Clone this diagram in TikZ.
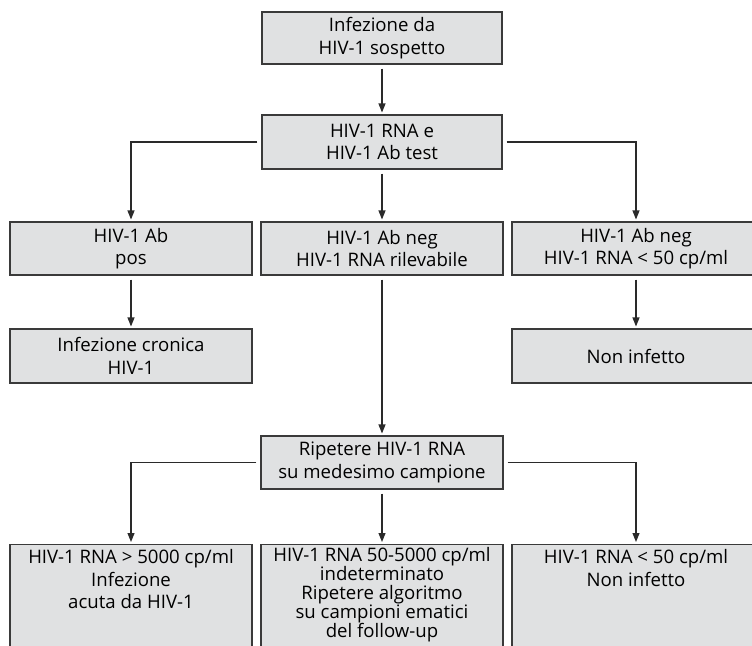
\documentclass[tikz,border=0pt]{standalone}
\usepackage{fontspec}
\setmainfont{Open Sans}
\usetikzlibrary{arrows.meta}
\definecolor{boxfill}{HTML}{E0E1E2}
\definecolor{boxline}{HTML}{3A3A3A}
\definecolor{arrline}{HTML}{2A2A2A}
\begin{document}
\begin{tikzpicture}[x=1pt,y=-1pt,
  box/.style={draw=boxline, fill=boxfill, line width=1.1pt, inner sep=0pt,
    align=center, font=\fontsize{18.6}{22.5}\selectfont},
  arr/.style={draw=arrline, line width=1.1pt, -{Triangle[length=9pt,width=7pt]},
    shorten <=4pt, shorten >=2pt}]
\useasboundingbox (0,0) rectangle (752,645);
\node[box, minimum width=240pt, minimum height=52pt] (top) at (382,38) {Infezione da\\HIV-1 sospetto};
\node[box, minimum width=240pt, minimum height=54pt] (test) at (382,142) {HIV-1 RNA e\\HIV-1 Ab test};
\node[box, minimum width=242pt, minimum height=53pt] (pos) at (131,248.5) {HIV-1 Ab\\pos};
\node[box, minimum width=242pt, minimum height=53pt] (rilev) at (382,248.5) {HIV-1 Ab neg\\HIV-1 RNA rilevabile};
\node[box, minimum width=248pt, minimum height=53pt] (neg) at (636,248.5) {HIV-1 Ab neg\\HIV-1 RNA < 50 cp/ml};
\node[box, minimum width=242pt, minimum height=54pt] (cron) at (131,356) {Infezione cronica\\HIV-1};
\node[box, minimum width=248pt, minimum height=54pt] (noninf) at (636,356) {Non infetto};
\node[box, minimum width=242pt, minimum height=53pt] (rip) at (382,462.5) {Ripetere HIV-1 RNA\\su medesimo campione};
\node[box, anchor=north] (acuta) at (131,544) {\parbox[t][120pt][t]{242pt}{\centering\vspace*{5pt}HIV-1 RNA > 5000 cp/ml\\Infezione\\acuta da HIV-1}};
\node[box, anchor=north] (indet) at (382,544) {\parbox[t][120pt][t]{242pt}{\centering\baselineskip=19pt\vspace*{2.5pt}HIV-1 RNA 50-5000 cp/ml\\indeterminato\\Ripetere algoritmo\\su campioni ematici\\del follow-up}};
\node[box, anchor=north] (rna50) at (636,544) {\parbox[t][120pt][t]{248pt}{\centering\vspace*{5pt}HIV-1 RNA < 50 cp/ml\\Non infetto}};
\draw[arr] (top) -- (test);
\draw[arr] (test.west) -| (pos.north);
\draw[arr] (test) -- (rilev);
\draw[arr] (test.east) -| (neg.north);
\draw[arr] (pos) -- (cron);
\draw[arr] (neg) -- (noninf);
\draw[arr] (rilev) -- (rip);
\draw[arr] (rip.west) -| (acuta.north);
\draw[arr] (rip) -- (indet);
\draw[arr] (rip.east) -| (rna50.north);
\end{tikzpicture}
\end{document}
